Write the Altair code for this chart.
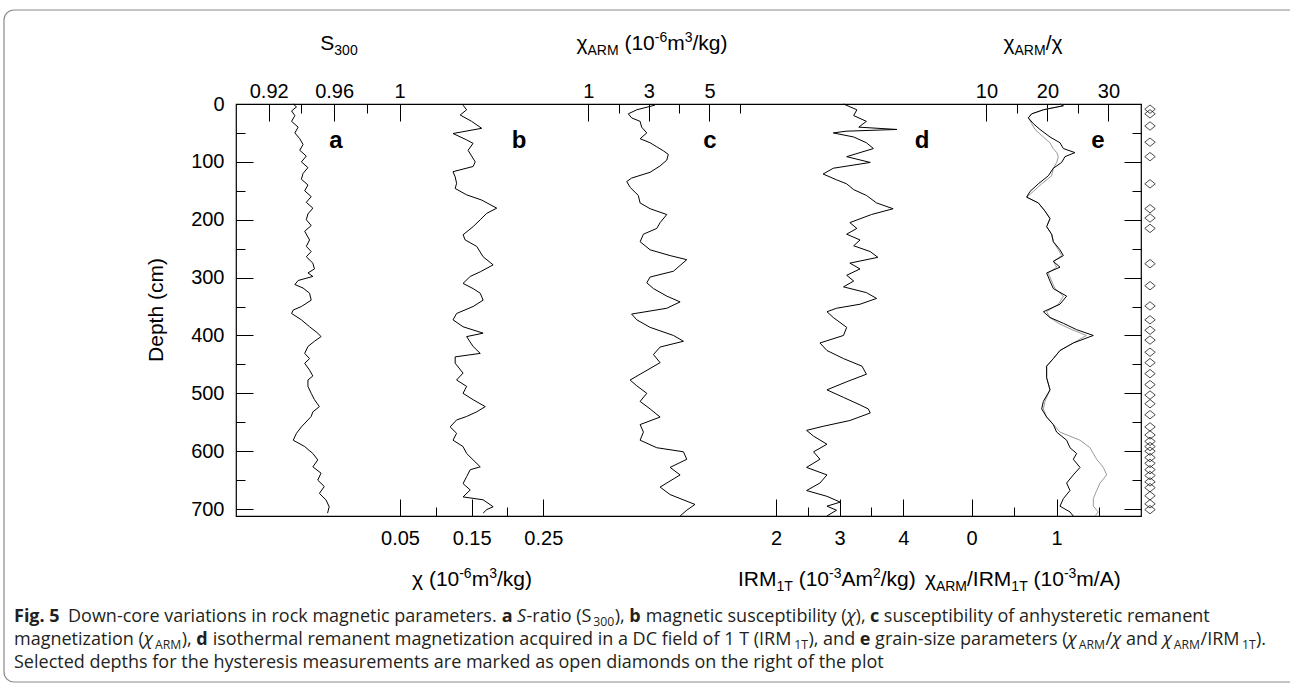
import altair as alt
import pandas as pd

# ---------------- data ----------------
# (depth cm, value)
s300_pts = [(0,0.935),(5,0.937),(12,0.934),(20,0.936),(30,0.934),(40,0.938),(50,0.936),(60,0.939),(70,0.941),(80,0.939),
            (90,0.943),(100,0.940),(110,0.944),(120,0.941),(130,0.940),(140,0.944),(150,0.942),(160,0.946),(170,0.943),(180,0.947),
            (190,0.944),(200,0.943),(210,0.946),(220,0.942),(235,0.945),(246,0.943),(255,0.946),(264,0.943),(275,0.947),(285,0.948),
            (292,0.944),(298,0.947),(305,0.938),(312,0.936),(318,0.941),(327,0.945),(339,0.946),(350,0.940),(356,0.935),(362,0.934),
            (373,0.940),(385,0.945),(396,0.950),(402,0.952),(410,0.948),(419,0.944),(431,0.942),(440,0.945),(448,0.942),(460,0.945),
            (470,0.947),(477,0.944),(488,0.944),(500,0.946),(511,0.948),(523,0.951),(532,0.947),(540,0.946),(546,0.944),(558,0.940),
            (569,0.937),(581,0.935),(592,0.942),(604,0.947),(615,0.950),(627,0.947),(638,0.952),(650,0.950),(661,0.954),(673,0.951),
            (684,0.955),(696,0.957),(707,0.956)]
chi_pts = [(2,0.138),(10,0.143),(19,0.134),(30,0.150),(42,0.164),(51,0.124),(62,0.143),(68,0.152),(80,0.145),(100,0.155),
           (108,0.152),(117,0.124),(126,0.127),(137,0.129),(146,0.127),(157,0.143),(166,0.164),(180,0.185),(189,0.171),(200,0.162),
           (212,0.152),(226,0.138),(235,0.141),(246,0.157),(264,0.166),(278,0.180),(290,0.162),(298,0.148),(310,0.138),(319,0.152),
           (327,0.162),(339,0.166),(350,0.152),(362,0.129),(373,0.124),(385,0.138),(396,0.166),(402,0.143),(419,0.152),(431,0.162),
           (437,0.127),(448,0.127),(465,0.138),(477,0.129),(488,0.143),(500,0.138),(511,0.152),(523,0.169),(532,0.157),(540,0.143),
           (546,0.129),(558,0.120),(569,0.129),(581,0.124),(592,0.138),(604,0.143),(615,0.152),(627,0.162),(632,0.148),(644,0.143),
           (656,0.138),(667,0.148),(679,0.138),(684,0.166),(696,0.180),(701,0.171),(707,0.166)]
chiarm_pts = [(2,3.20),(10,2.60),(17,2.32),(24,2.43),(30,2.71),(40,2.76),(50,2.93),(60,2.71),(67,3.04),(74,3.26),
              (81,3.48),(87,3.64),(97,3.59),(107,3.37),(118,3.04),(128,2.43),(134,2.27),(144,2.38),(158,2.65),(171,2.71),
              (181,3.04),(191,3.59),(205,3.37),(215,3.26),(225,2.82),(238,2.71),(252,3.04),(262,3.70),(269,4.25),(279,4.03),
              (289,3.81),(299,3.04),(309,2.93),(319,3.15),(332,3.59),(342,4.03),(353,3.59),(363,2.43),(373,2.60),(386,3.04),
              (400,3.81),(410,4.14),(420,3.37),(433,3.15),(447,3.37),(467,2.71),(477,2.38),(487,2.60),(500,2.93),(514,2.71),
              (527,3.04),(541,3.37),(554,2.71),(567,2.82),(581,2.71),(594,3.26),(601,4.14),(614,4.25),(628,3.70),(641,4.03),
              (662,3.37),(675,3.70),(692,4.52),(702,4.25),(712,4.03)]
irm_pts = [(0,3.06),(10,3.27),(20,3.22),(30,3.42),(40,3.30),(44,3.90),(47,3.10),(50,2.90),(57,3.22),(67,3.42),
           (77,3.53),(84,3.32),(91,3.11),(101,3.48),(111,2.90),(121,2.74),(131,2.95),(138,3.11),(148,3.22),(158,3.42),
           (171,3.58),(181,3.84),(191,3.50),(205,3.16),(215,3.27),(225,3.11),(235,3.32),(245,3.22),(255,3.48),(265,3.60),
           (275,3.16),(285,3.32),(296,3.11),(306,3.22),(316,3.06),(326,3.42),(336,3.58),(346,3.32),(353,2.95),(359,2.80),
           (369,2.90),(386,3.11),(400,3.06),(413,2.69),(426,2.80),(440,3.06),(453,3.35),(467,3.42),(480,3.11),(494,2.80),
           (507,3.06),(520,3.32),(527,3.45),(534,3.48),(547,3.16),(557,2.74),(564,2.48),(574,2.59),(588,2.80),(601,2.59),
           (614,2.69),(628,2.48),(641,2.80),(655,2.69),(668,2.48),(678,2.80),(688,3.01),(695,2.80),(702,2.95),(712,2.80)]
ratio_chi_pts = [(0,22.05),(3,22.6),(10,19.32),(17,17.41),(24,16.86),(34,17.68),(44,18.77),(57,20.41),(67,22.05),(77,22.6),
                 (84,24.5),(91,22.87),(101,22.32),(111,20.96),(124,20.14),(138,18.5),(151,17.14),(161,16.59),(171,18.5),(185,19.59),
                 (198,20.41),(212,19.86),(225,20.68),(238,20.96),(252,22.05),(262,22.6),(272,20.96),(282,22.05),(292,19.86),(306,20.41),
                 (319,20.96),(332,23.14),(346,22.05),(359,19.32),(369,20.41),(379,22.6),(390,24.78),(400,27.51),(413,24.23),(426,22.05),
                 (440,20.96),(453,19.86),(473,19.86),(494,20.41),(514,19.32),(527,19.05),(541,19.86),(554,20.96),(567,21.5),(581,23.14),
                 (594,23.69),(604,24.78),(614,24.23),(628,25.33),(641,24.23),(655,23.14),(668,23.69),(682,22.6),(695,22.05),(705,23.69),
                 (712,24.23)]
ratio_irm_pts = [(0,1.039),(3,1.078),(10,0.843),(17,0.706),(24,0.666),(34,0.706),(44,0.745),(57,0.843),(67,0.92),(77,0.96),
                 (84,1.0),(91,1.02),(101,1.0),(111,0.961),(124,0.941),(138,0.823),(151,0.725),(161,0.647),(171,0.784),(185,0.862),
                 (198,0.922),(212,0.882),(225,0.941),(238,0.961),(252,1.02),(262,1.06),(272,0.961),(282,1.0),(292,0.9),(306,0.941),
                 (319,0.98),(332,1.08),(346,1.02),(359,0.88),(369,0.922),(379,1.02),(390,1.18),(400,1.35),(413,1.196),(426,1.039),
                 (440,0.961),(453,0.882),(473,0.882),(494,0.922),(514,0.862),(527,0.843),(541,0.882),(554,0.961),(567,1.039),(581,1.274),
                 (594,1.392),(604,1.431),(614,1.471),(628,1.549),(641,1.588),(655,1.51),(668,1.471),(682,1.431),(695,1.431),(705,1.49),
                 (712,1.451)]
hyst_depths = [9,17,38,66,91,138,181,197,215,276,314,349,373,391,408,429,447,466,485,503,518,537,558,572,583,592,600,
               611,621,632,642,653,663,677,691,701]

depth_major = [0,100,200,300,400,500,600,700]
depth_minor = [50,150,250,350,450,550,650]

# ---------------- layout ----------------
FONT = 'Liberation Sans'
CAP_FONT = 'Open Sans'
W, H = 905, 412
OX, OY = 236, 104
Y_DOM = [0, 712]
MAJ, MIN = 17, 9

DOM_A = [0.90, 1.4535]
DOM_B = [-0.1789, 1.0842]
DOM_C = [-10.627, 19.241]
DOM_D = [-6.484, 7.734]
DOM_E1 = [-113.03, 35.33]
DOM_E2 = [-8.655, 1.992]


def ysc():
    return alt.Scale(domain=Y_DOM, reverse=True, nice=False, zero=False)


def xsc(dom):
    return alt.Scale(domain=dom, nice=False, zero=False)


def series(pts, dom, color='black', sw=1.0):
    df = pd.DataFrame(pts, columns=['depth', 'v'])
    return alt.Chart(df).mark_line(color=color, strokeWidth=sw).encode(
        x=alt.X('v:Q', scale=xsc(dom), axis=None),
        y=alt.Y('depth:Q', scale=ysc(), axis=None),
        order='depth:Q')


def axis_common(size, labels, pad, orient, values):
    return dict(orient=orient, values=values, tickSize=size, offset=-size, labels=labels,
                domain=False, grid=False, title=None, tickColor='black', tickWidth=1,
                labelFont=FONT, labelFontSize=20, labelColor='black', labelPadding=pad,
                labelExpr="'' + datum.value", labelOverlap=False, labelFlush=False, labelBound=False)


def xaxis(dom, values, orient, size, labels, pad):
    df = pd.DataFrame({'v': dom})
    return alt.Chart(df).mark_point(opacity=0).encode(
        x=alt.X('v:Q', scale=xsc(dom), axis=alt.Axis(**axis_common(size, labels, pad, orient, values))))


def yaxis(values, orient, size, labels, pad):
    df = pd.DataFrame({'v': Y_DOM})
    return alt.Chart(df).mark_point(opacity=0).encode(
        y=alt.Y('v:Q', scale=ysc(), axis=alt.Axis(**axis_common(size, labels, pad, orient, values))))


# approximate advance widths (em) for Liberation Sans (titles)
WTAB = {'S': .667, 'χ': .52, 'A': .667, 'R': .722, 'M': .833, ' ': .278, '(': .333, ')': .333, '-': .333,
        'm': .833, '/': .278, 'k': .5, 'g': .556, 'I': .278, 'T': .611}


def tw(t, s):
    return sum(WTAB.get(c, .556) for c in t) * s


def rich(parts, baseline, center=None, left=None):
    sizes = {'n': 21, 'sub': 14, 'sup': 14}
    dys = {'n': 0, 'sub': 5, 'sup': -8}
    total = sum(tw(t, sizes[k]) for t, k in parts)
    x = left if left is not None else center - total / 2
    rows = []
    for t, k in parts:
        lead = len(t) - len(t.lstrip(' '))
        x += tw(' ' * lead, sizes[k])
        body = t.strip(' ')
        rows.append({'t': body, 'x': x - OX, 'y': baseline + dys[k] - OY, 's': sizes[k]})
        x += tw(t.lstrip(' '), sizes[k])
    return rows


# approximate advance widths (em) for Open Sans (caption)
OTAB = {' ': .26, 'a': .556, 'b': .613, 'c': .476, 'd': .613, 'e': .561, 'f': .339, 'g': .548, 'h': .614,
        'i': .253, 'j': .253, 'k': .525, 'l': .253, 'm': .93, 'n': .614, 'o': .604, 'p': .613, 'q': .613,
        'r': .408, 's': .477, 't': .353, 'u': .614, 'v': .501, 'w': .778, 'x': .524, 'y': .502, 'z': .461,
        'A': .633, 'C': .631, 'D': .729, 'F': .519, 'I': .3, 'M': .903, 'R': .615, 'S': .547, 'T': .559,
        '(': .296, ')': .296, ',': .244, '.': .266, '/': .367, '-': .322, 'χ': .52}


def ow(t, s, style):
    f = {'n': 1.0, 'b': 1.07, 'i': 0.97, 'sub': 1.02}[style]
    return sum(OTAB.get(c, .572) for c in t) * s * f


def caption(parts, x0, baseline, size=18):
    rows = {'n': [], 'b': [], 'i': [], 'sub': []}
    x = x0
    for t, st in parts:
        s = size * 0.68 if st == 'sub' else size
        dy = 4 if st == 'sub' else 0
        if st == 'sub':
            x += 2
        lead = len(t) - len(t.lstrip(' '))
        x += ow(' ' * lead, s, st)
        body = t.strip(' ')
        if body:
            rows[st].append({'t': body, 'x': x - OX, 'y': baseline + dy - OY, 's': s})
        x += ow(t.lstrip(' '), s, st)
    return rows


def text_layer(rows, font=FONT, weight='normal', align='left', color='black', style='normal'):
    df = pd.DataFrame(rows)
    return alt.Chart(df).mark_text(align=align, baseline='alphabetic', font=font, fontWeight=weight,
                                   fontStyle=style, color=color).encode(
        x=alt.X('x:Q', scale=None, axis=None),
        y=alt.Y('y:Q', scale=None, axis=None),
        text='t:N',
        size=alt.Size('s:Q', scale=None, legend=None))


layers = []

# frame around the figure
frame = alt.Chart(pd.DataFrame({'k': [0]})).mark_rect(
    fillOpacity=0, stroke='#8a8a8a', strokeWidth=1.2, cornerRadius=10).encode(
    x=alt.value(4 - OX), x2=alt.value(1300 - OX), y=alt.value(10 - OY), y2=alt.value(682 - OY))
layers.append(frame)

# series
layers += [
    series(s300_pts, DOM_A),
    series(chi_pts, DOM_B),
    series(chiarm_pts, DOM_C),
    series(irm_pts, DOM_D),
    series(ratio_irm_pts, DOM_E2, color='#9a9a9a'),
    series(ratio_chi_pts, DOM_E1),
]

TOP_PAD, BOT_PAD = 3, 12
layers += [
    xaxis(DOM_A, [0.92, 0.96, 1], 'top', MAJ, True, TOP_PAD),
    xaxis(DOM_A, [0.94, 0.98], 'top', MIN, False, TOP_PAD),
    xaxis(DOM_C, [1, 3, 5], 'top', MAJ, True, TOP_PAD),
    xaxis(DOM_C, [2, 4, 6], 'top', MIN, False, TOP_PAD),
    xaxis(DOM_E1, [10, 20, 30], 'top', MAJ, True, TOP_PAD),
    xaxis(DOM_E1, [15, 25], 'top', MIN, False, TOP_PAD),
    xaxis(DOM_B, [0.05, 0.15, 0.25], 'bottom', MAJ, True, BOT_PAD),
    xaxis(DOM_B, [0.1, 0.2], 'bottom', MIN, False, BOT_PAD),
    xaxis(DOM_D, [2, 3, 4], 'bottom', MAJ, True, BOT_PAD),
    xaxis(DOM_D, [2.5, 3.5], 'bottom', MIN, False, BOT_PAD),
    xaxis(DOM_E2, [0, 1, 2], 'bottom', MAJ, True, BOT_PAD),
    xaxis(DOM_E2, [0.5, 1.5], 'bottom', MIN, False, BOT_PAD),
    yaxis(depth_major, 'left', MAJ, True, 12),
    yaxis(depth_minor, 'left', MIN, False, 12),
    yaxis(depth_major, 'right', MAJ, False, 12),
    yaxis(depth_minor, 'right', MIN, False, 12),
]

# hysteresis diamonds
dia = alt.Chart(pd.DataFrame({'depth': hyst_depths})).mark_point(
    shape='M-1,0L0,-0.8L1,0L0,0.8Z', filled=False, color='black', strokeWidth=1, size=110).encode(
    x=alt.value(1150 - OX), y=alt.Y('depth:Q', scale=ysc(), axis=None))
layers.append(dia)

# axis titles
title_rows = []
title_rows += rich([('S', 'n'), ('300', 'sub')], 50, center=339)
title_rows += rich([('χ', 'n'), ('ARM', 'sub'), (' (10', 'n'), ('-6', 'sup'), ('m', 'n'), ('3', 'sup'), ('/kg)', 'n')], 50, center=652)
title_rows += rich([('χ', 'n'), ('ARM', 'sub'), ('/χ', 'n')], 50, center=1033)
title_rows += rich([('χ (10', 'n'), ('-6', 'sup'), ('m', 'n'), ('3', 'sup'), ('/kg)', 'n')], 586, center=472)
title_rows += rich([('IRM', 'n'), ('1T', 'sub'), (' (10', 'n'), ('-3', 'sup'), ('Am', 'n'), ('2', 'sup'), ('/kg)', 'n')], 586, left=738)
title_rows += rich([('χ', 'n'), ('ARM', 'sub'), ('/IRM', 'n'), ('1T', 'sub'), (' (10', 'n'), ('-3', 'sup'), ('m/A)', 'n')], 586, left=925)
layers.append(text_layer(title_rows))

# depth title
depth_title = alt.Chart(pd.DataFrame({'t': ['Depth (cm)']})).mark_text(
    font=FONT, fontSize=21, angle=270, color='black', baseline='middle', align='center').encode(
    x=alt.value(157 - OX), y=alt.value(310 - OY), text='t:N')
layers.append(depth_title)

# panel letters
letters = [{'t': l, 'x': x - OX, 'y': 148 - OY, 's': 24} for l, x in
           zip(['a', 'b', 'c', 'd', 'e'], [336, 519, 710, 922, 1098])]
layers.append(text_layer(letters, weight='bold', align='center'))

# caption (mixed styles)
cap = {'n': [], 'b': [], 'i': [], 'sub': []}
for part_rows in [
    caption([('Fig. 5', 'b')], 14, 622),
    caption([('Down-core variations in rock magnetic parameters. ', 'n'), ('a', 'b'), (' ', 'n'), ('S', 'i'),
             ('-ratio (S', 'n'), ('300', 'sub'), ('), ', 'n'), ('b', 'b'), (' magnetic susceptibility (', 'n'),
             ('χ', 'i'), ('), ', 'n'), ('c', 'b'), (' susceptibility of anhysteretic remanent', 'n')], 68, 622),
    caption([('magnetization (', 'n'), ('χ', 'i'), ('ARM', 'sub'), ('), ', 'n'), ('d', 'b'),
             (' isothermal remanent magnetization acquired in a DC field of 1 T (IRM', 'n'), ('1T', 'sub'),
             ('), and ', 'n'), ('e', 'b'), (' grain-size parameters (', 'n'), ('χ', 'i'), ('ARM', 'sub'),
             ('/', 'n'), ('χ', 'i'), (' and ', 'n'), ('χ', 'i'), ('ARM', 'sub'), ('/IRM', 'n'), ('1T', 'sub'),
             (').', 'n')], 14, 645),
    caption([('Selected depths for the hysteresis measurements are marked as open diamonds on the right of the plot', 'n')], 14, 668),
]:
    for k in cap:
        cap[k] += part_rows[k]

CAP_COLOR = '#231f20'
layers.append(text_layer(cap['n'] + cap['sub'], font=CAP_FONT, color=CAP_COLOR))
layers.append(text_layer(cap['b'], font=CAP_FONT, weight='bold', color=CAP_COLOR))
layers.append(text_layer(cap['i'], font=CAP_FONT, style='italic', color=CAP_COLOR))

chart = alt.layer(*layers).resolve_scale(x='independent', y='independent').properties(
    width=W, height=H,
    autosize=alt.AutoSizeParams(type='none'),
    padding={'left': OX, 'top': OY, 'right': 1290 - OX - W, 'bottom': 687 - OY - H},
).configure_view(stroke='black', strokeWidth=1.2)

chart.save('out.html', embed_options={'renderer': 'svg', 'actions': False})
